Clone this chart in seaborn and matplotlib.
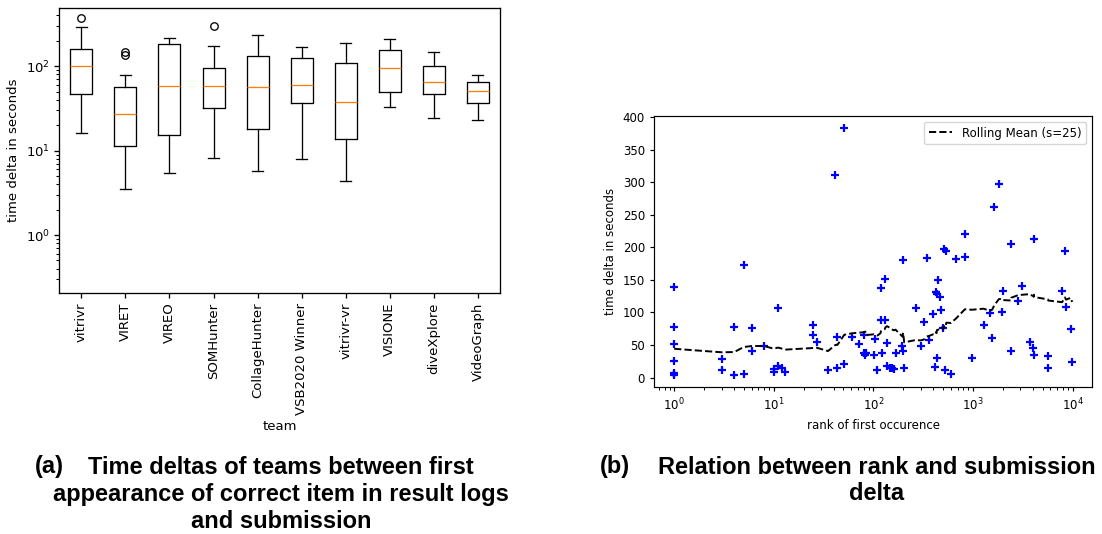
import numpy as np
import pandas as pd
import matplotlib
matplotlib.use("Agg")
import matplotlib.pyplot as plt
import seaborn as sns

# ---------------- data: box plot (a) ----------------
teams = ["vitrivr", "VIRET", "VIREO", "SOMHunter", "CollageHunter",
         "VSB2020 Winner", "vitrivr-vr", "VISIONE", "diveXplore", "VideoGraph"]
whisker_low = [16.3, 3.47, 5.47, 8.1, 5.78, 8.0, 4.4, 33.2, 24.5, 23.3]
q1 = [47.0, 11.4, 15.5, 32.0, 18.0, 37.0, 13.6, 49.5, 46.9, 37.0]
medians = [100.0, 27.2, 58.0, 58.0, 57.3, 60.5, 38.0, 95.4, 65.6, 51.4]
q3 = [160.0, 57.3, 185.0, 96.3, 131.0, 125.0, 108.6, 155.0, 100.0, 64.6]
whisker_high = [293.0, 79.0, 217.0, 175.0, 235.0, 169.0, 189.0, 211.0, 148.0, 79.0]
fliers = [[378.0], [146.6, 136.0], [], [303.0], [], [], [], [], [], []]

# ---------------- data: scatter (b) ----------------
rank = [1, 1, 1, 1, 1, 1, 1, 3, 3, 4, 4, 5, 5, 6, 6, 8, 10, 10, 11, 11, 12, 13,
        25, 25, 27, 35, 41.5, 43, 43.5, 50.7, 51, 61, 71, 80, 80, 83, 85,
        101, 104, 110, 118, 119, 122, 130, 132, 137, 137, 147, 153, 160, 167,
        196, 199, 199, 204, 266, 298, 321, 344, 362, 400, 413, 425, 431, 435,
        447, 470, 475, 505, 515, 530, 540, 600, 675, 830, 830, 980, 1280,
        1480, 1560, 1630, 1820, 1950, 1990, 2420, 2430, 2860, 3100, 3700,
        4050, 4100, 4120, 5650, 5700, 7850, 8400, 8600, 9600, 9900]
delta = [138.8, 78.0, 51.4, 25.0, 7.0, 5.0, 4.0, 28.0, 12.0, 77.0, 4.6, 173.0, 5.6,
         76.5, 40.5, 49.0, 13.0, 8.0, 107.0, 17.0, 15.0, 8.0,
         81.0, 65.0, 55.0, 12.3, 311.0, 61.7, 14.3, 382.5, 20.5, 61.7, 51.0, 66.0,
         37.0, 35.0, 37.0, 35.0, 59.5, 11.3, 137.7, 88.8, 38.0, 152.0, 88.4,
         53.4, 17.4, 15.0, 14.0, 12.8, 37.0, 48.0, 41.0, 180.5, 14.8, 107.0,
         47.8, 84.8, 184.0, 58.0, 97.6, 15.9, 131.0, 30.2, 129.0, 150.5, 124.0,
         104.3, 76.5, 197.0, 11.3, 194.0, 5.1, 182.5, 184.5, 221.0, 30.3, 80.7,
         98.7, 60.0, 262.0, 296.6, 100.0, 133.6, 40.5, 205.6, 117.7, 140.8, 54.5,
         45.7, 213.0, 34.4, 14.3, 32.4, 133.0, 193.8, 109.0, 74.5, 24.0]
window = 25

W, H, DPI = 1102, 534, 100
fig = plt.figure(figsize=(W / DPI, H / DPI), dpi=DPI)
plt.rcParams["font.family"] = ["DejaVu Sans"]

# ================= (a) box plot =================
fa = 9.5  # font size
lw_a = 0.94
ax1 = fig.add_axes([59.3 / W, 1 - 293.3 / H, (500 - 59.3) / W, (293.3 - 8) / H])
stats = []
for i, t in enumerate(teams):
    stats.append(dict(label=t, whislo=whisker_low[i], q1=q1[i], med=medians[i],
                      q3=q3[i], whishi=whisker_high[i], fliers=fliers[i]))
ax1.bxp(stats, positions=range(1, len(teams) + 1), widths=0.5,
        boxprops=dict(color="black", linewidth=lw_a),
        whiskerprops=dict(color="black", linewidth=lw_a),
        capprops=dict(color="black", linewidth=lw_a),
        medianprops=dict(color="#ff7f0e", linewidth=lw_a),
        flierprops=dict(marker="o", markerfacecolor="none", markeredgecolor="black",
                        markersize=5.4, markeredgewidth=lw_a))
ax1.set_yscale("log")
ax1.set_ylim(0.204, 490)
ax1.set_xlim(0.5, len(teams) + 0.5)
ax1.set_xticks(range(1, len(teams) + 1))
ax1.set_xticklabels(teams, rotation=90, fontsize=fa)
ax1.tick_params(axis="both", labelsize=fa, width=lw_a, length=3.3)
ax1.tick_params(axis="y", which="minor", width=lw_a * 0.8, length=2.0)
ax1.set_ylabel("time delta in seconds", fontsize=fa)
ax1.set_xlabel("team", fontsize=fa)
for s in ax1.spines.values():
    s.set_linewidth(lw_a)

# ================= (b) scatter =================
fb = 8.47
lw_b = 0.85
ax2 = fig.add_axes([654.3 / W, 1 - 387.3 / H, (1092 - 654.3) / W, (387.3 - 116) / H])
df = pd.DataFrame({"rank": rank, "delta": delta}).sort_values("rank", kind="stable")
df["rolling"] = df["delta"].rolling(window, min_periods=1).mean()
line_df = df.groupby("rank", as_index=False).last()

sns.scatterplot(data=df, x="rank", y="delta", marker="+", color="blue", s=30,
                linewidth=1.6, ax=ax2, legend=False, zorder=2)
sns.lineplot(data=line_df, x="rank", y="rolling", color="black", linestyle="--",
             linewidth=1.4, ax=ax2, label=f"Rolling Mean (s={window})", zorder=3)
ax2.set_xscale("log")
ax2.margins(x=0.05, y=0.05)
ax2.set_yticks([0, 50, 100, 150, 200, 250, 300, 350, 400])
ax2.set_xlabel("rank of first occurence", fontsize=fb)
ax2.set_ylabel("time delta in seconds", fontsize=fb)
ax2.tick_params(axis="both", labelsize=fb, width=lw_b, length=3.2)
ax2.tick_params(axis="x", which="minor", width=lw_b * 0.8, length=1.8)
for s in ax2.spines.values():
    s.set_linewidth(lw_b)
ax2.legend(loc="upper right", fontsize=fb, handlelength=2.0)

# ================= captions =================
cap_kw = dict(fontsize=17, fontweight="bold", family=["Liberation Sans", "DejaVu Sans"],
              va="center", color="black")
fig.text(35 / W, 1 - 467 / H, "(a)", ha="left", **cap_kw)
fig.text(281 / W, 1 - 467 / H, "Time deltas of teams between first", ha="center", **cap_kw)
fig.text(281 / W, 1 - 494 / H, "appearance of correct item in result logs", ha="center", **cap_kw)
fig.text(281 / W, 1 - 521 / H, "and submission", ha="center", **cap_kw)
fig.text(600 / W, 1 - 467 / H, "(b)", ha="left", **cap_kw)
fig.text(877 / W, 1 - 467 / H, "Relation between rank and submission", ha="center", **cap_kw)
fig.text(877 / W, 1 - 494 / H, "delta", ha="center", **cap_kw)

fig.savefig("out.png", dpi=DPI)
